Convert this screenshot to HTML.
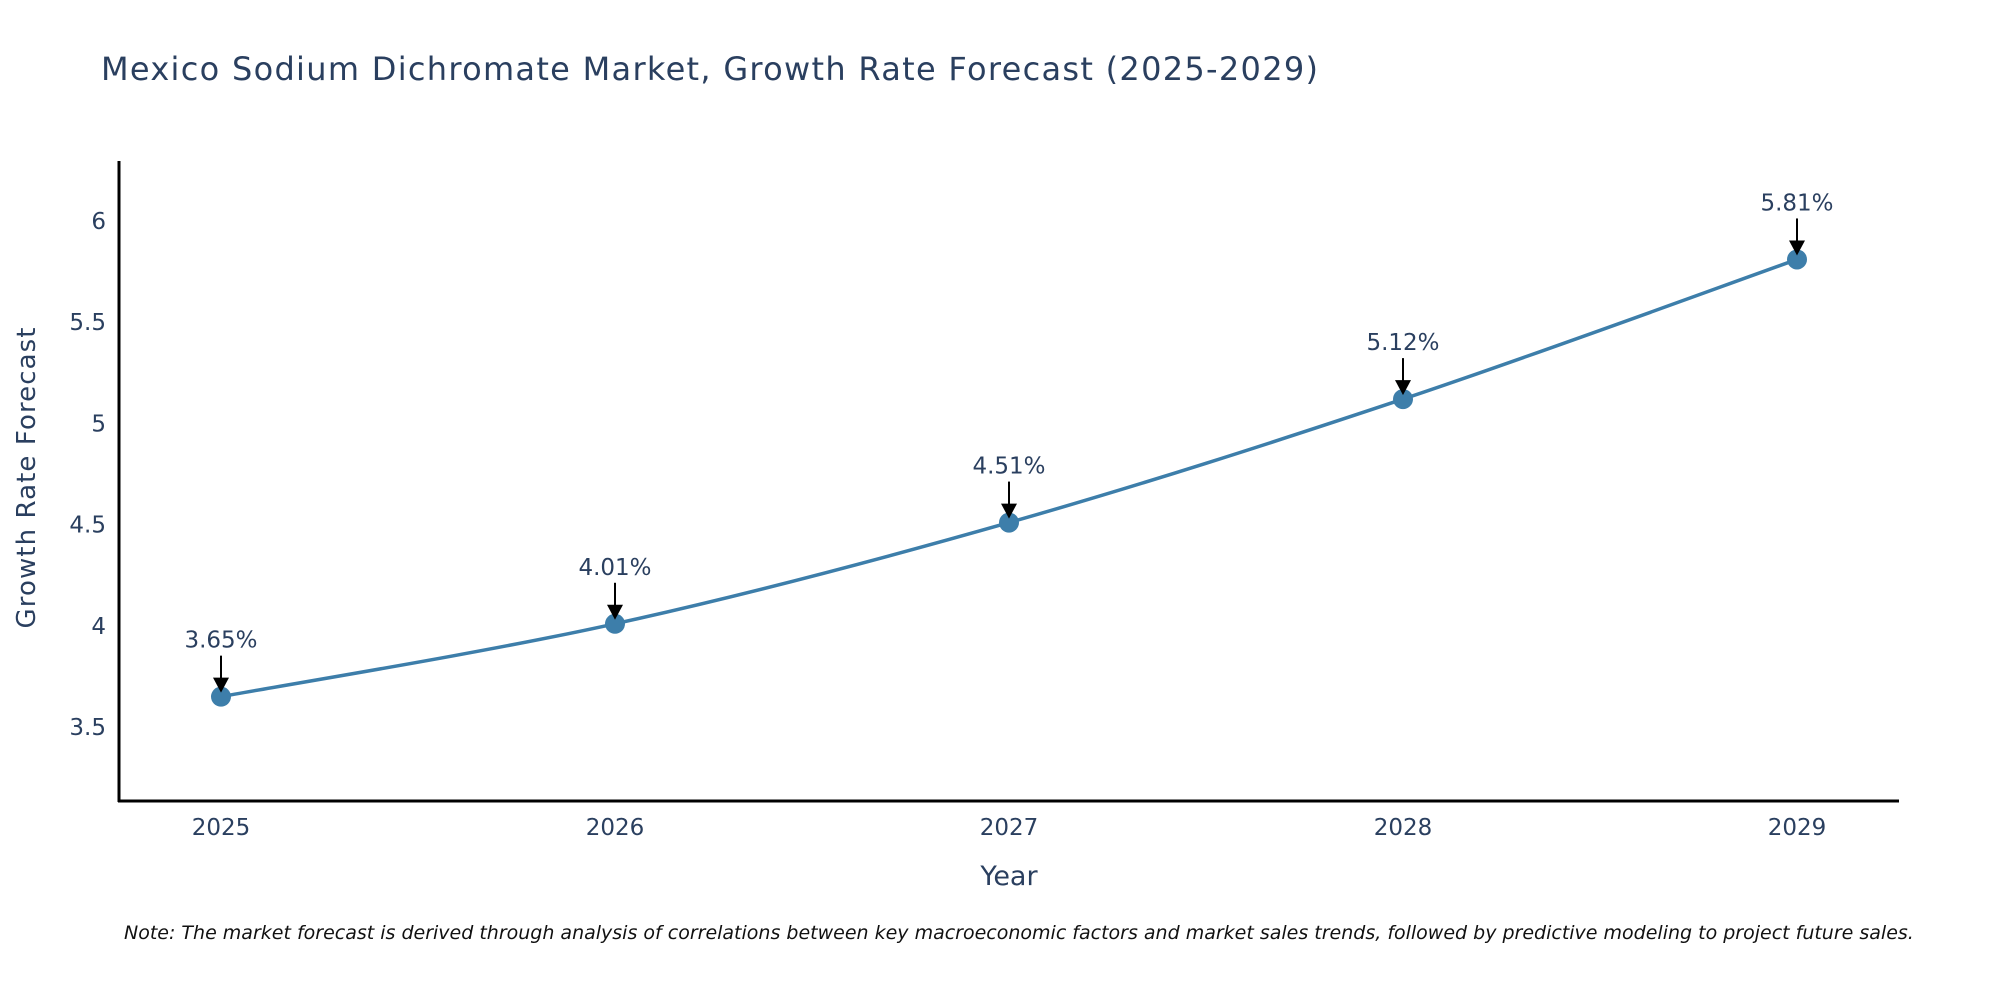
<!DOCTYPE html>
<html><head><meta charset="utf-8"><style>
body{margin:0;background:#fff}
svg text{font-family:"DejaVu Sans","Liberation Sans",sans-serif}
</style></head><body>
<svg id="chart" width="2000" height="1000" xmlns="http://www.w3.org/2000/svg">
<rect width="2000" height="1000" fill="#fff"/>
<text x="101" y="80" font-size="32" fill="#2a3f5f" textLength="1217">Mexico Sodium Dichromate Market, Growth Rate Forecast (2025-2029)</text>
<g id="yticks"></g><g id="xticks"></g>
<line x1="119" y1="161" x2="119" y2="802" stroke="#000" stroke-width="3"/>
<line x1="118" y1="801" x2="1899" y2="801" stroke="#000" stroke-width="3"/>
<path id="line" fill="none" stroke="#3d7eaa" stroke-width="3.5"/>
<g id="points"></g><g id="annots"></g>
<text transform="translate(35,478) rotate(-90)" text-anchor="middle" font-size="26" fill="#2a3f5f" textLength="301">Growth Rate Forecast</text>
<text x="1009" y="885" text-anchor="middle" font-size="27" fill="#2a3f5f">Year</text>
<text x="124" y="939" font-size="19" font-style="italic" fill="#111">Note: The market forecast is derived through analysis of correlations between key macroeconomic factors and market sales trends, followed by predictive modeling to project future sales.</text>
</svg>
<script>
const years=[2025,2026,2027,2028,2029];
const values=[3.65,4.01,4.51,5.12,5.81];
const yTicks=[3.5,4,4.5,5,5.5,6];
const NS="http://www.w3.org/2000/svg";
const X=y=>221+(y-2025)*394;
const Y=v=>221+(6-v)*202.4;
function mk(t,a,p){const e=document.createElementNS(NS,t);for(const k in a)e.setAttribute(k,a[k]);p.appendChild(e);return e;}
const yt=document.getElementById('yticks');
yTicks.forEach(v=>{const t=mk('text',{x:106,y:Y(v)+8,'text-anchor':'end','font-size':23,fill:'#2a3f5f'},yt);


t.textContent=String(v);});
const xt=document.getElementById('xticks');
years.forEach(y=>{const t=mk('text',{x:X(y),y:835,'text-anchor':'middle','font-size':23,fill:'#2a3f5f'},xt);


t.textContent=String(y);});
const pts=years.map((y,i)=>[X(y),Y(values[i])]);
let d=`M${pts[0][0]},${pts[0][1]}`;
for(let i=0;i<pts.length-1;i++){const p0=pts[Math.max(i-1,0)],p1=pts[i],p2=pts[i+1],p3=pts[Math.min(i+2,pts.length-1)];const s=0.17;
d+=` C${p1[0]+(p2[0]-p0[0])*s},${p1[1]+(p2[1]-p0[1])*s} ${p2[0]-(p3[0]-p1[0])*s},${p2[1]-(p3[1]-p1[1])*s} ${p2[0]},${p2[1]}`;}
document.getElementById('line').setAttribute('d',d);
const pg=document.getElementById('points'),ag=document.getElementById('annots');
pts.forEach((p,i)=>{const c=mk('circle',{cx:p[0],cy:p[1],r:10,fill:'#3d7eaa'},pg);


const l=mk('line',{x1:p[0],y1:p[1]-41,x2:p[0],y2:p[1]-14,stroke:'#000','stroke-width':2},ag);


const h=mk('polygon',{points:`${p[0]-8},${p[1]-19} ${p[0]+8},${p[1]-19} ${p[0]},${p[1]-4}`,fill:'#000'},ag);


const t=mk('text',{x:p[0],y:p[1]-49,'text-anchor':'middle','font-size':23,fill:'#2a3f5f'},ag);


t.textContent=values[i].toFixed(2)+'%';});
</script>
</body></html>
